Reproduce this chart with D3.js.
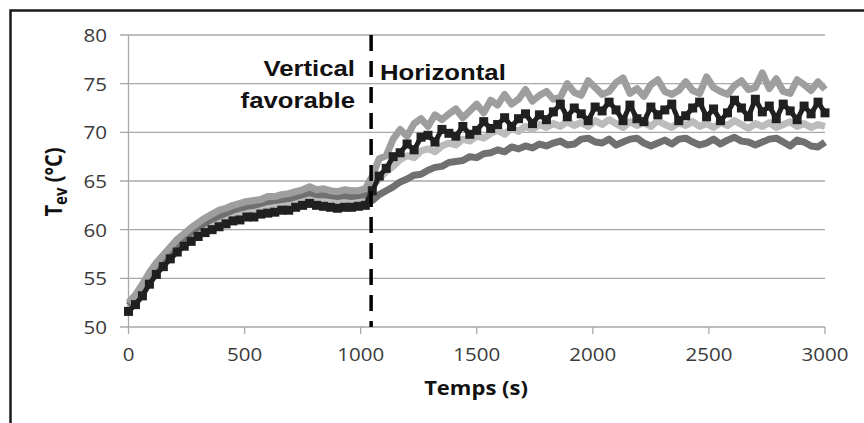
<!DOCTYPE html>
<html>
<head>
<meta charset="utf-8">
<script src="https://cdn.jsdelivr.net/npm/d3@7"></script>
<style>
  body { margin: 0; background: #fff; }
  svg { display: block; }
</style>
</head>
<body>
<svg id="chart" width="864" height="423"></svg>
<script>
// sample times, every 30 s
const times = d3.range(0, 3001, 30);

// light gray, top after the switch
const serieA = [
  52.5, 53.3, 54.4, 55.6, 56.6, 57.4, 58.2, 59.0, 59.6, 60.2,
  60.7, 61.2, 61.6, 62.0, 62.2, 62.5, 62.7, 62.9, 63.0, 63.1,
  63.4, 63.4, 63.6, 63.7, 63.9, 64.1, 64.4, 64.1, 64.2, 64.0,
  63.9, 64.1, 64.0, 64.0, 64.2, 65.5, 67.3, 67.6, 69.3, 70.3,
  69.6, 70.9, 71.4, 70.6, 71.8, 71.3, 71.9, 72.4, 71.5, 72.2,
  72.9, 72.0, 73.3, 72.8, 73.9, 72.9, 73.4, 74.4, 73.2, 73.8,
  74.2, 73.4, 73.6, 75.0, 74.1, 73.8, 75.3, 74.6, 73.9, 74.2,
  75.1, 75.6, 74.0, 74.5, 73.7, 74.9, 75.4, 74.2, 73.9, 74.3,
  75.2, 74.3, 74.0, 75.7, 74.6, 74.2, 73.9, 74.8, 75.3, 74.4,
  74.6, 76.1, 74.5, 75.5, 74.2, 74.0, 75.4, 74.9, 74.3, 75.2,
  74.4
];

// lightest gray, middle
const serieB = [
  51.9, 52.6, 53.6, 54.8, 55.8, 56.6, 57.4, 58.1, 58.7, 59.3,
  59.8, 60.3, 60.7, 61.0, 61.3, 61.6, 61.8, 62.0, 62.1, 62.3,
  62.5, 62.6, 62.7, 62.8, 63.0, 63.2, 63.4, 63.2, 63.1, 63.0,
  63.0, 63.1, 63.0, 63.1, 63.2, 64.5, 65.2, 66.0, 66.5, 67.2,
  67.6, 67.4, 68.1, 68.3, 68.0, 68.6, 68.9, 68.7, 69.3, 69.1,
  69.6, 69.4, 69.9, 70.2, 69.8, 70.4, 70.1, 70.6, 70.3, 70.8,
  70.5, 70.9, 70.6, 71.1, 70.7, 71.0, 70.6, 71.2, 70.8, 71.3,
  70.9, 70.5, 71.1, 70.7, 71.0, 70.6, 71.2, 70.8, 70.5, 71.0,
  70.7, 71.1, 70.6, 70.9, 70.5, 71.0, 70.7, 71.2, 70.8, 70.4,
  70.9, 70.6, 71.0, 70.5, 70.8, 71.1, 70.6, 70.9, 70.5, 70.8,
  70.6
];

// dark gray, bottom after the switch
const serieC = [
  52.2, 52.9, 54.0, 55.1, 56.1, 56.9, 57.8, 58.5, 59.1, 59.7,
  60.2, 60.7, 61.1, 61.4, 61.7, 62.0, 62.2, 62.4, 62.5, 62.7,
  62.9, 63.0, 63.1, 63.2, 63.4, 63.6, 63.8, 63.6, 63.6, 63.5,
  63.4, 63.5, 63.4, 63.5, 63.6, 63.0, 63.6, 64.0, 64.4, 64.9,
  65.2, 65.6, 65.7, 66.1, 66.4, 66.5, 66.9, 67.0, 67.1, 67.5,
  67.4, 67.8, 67.9, 68.2, 68.0, 68.5, 68.3, 68.6, 68.4, 68.8,
  68.6, 68.9, 69.1, 68.7, 68.8, 69.3, 69.4, 69.0, 68.9, 69.3,
  68.7, 69.0, 69.3, 69.4, 68.9, 68.6, 68.9, 69.2, 68.8, 69.3,
  69.4, 69.0, 68.7, 68.9, 69.3, 68.8, 69.2, 69.5, 69.1, 69.0,
  68.7, 69.0, 69.3, 69.4, 69.0, 68.6, 69.2, 69.0, 68.6, 68.5,
  69.0
];

// black, with markers
const serieD = [
  51.6, 52.3, 53.2, 54.4, 55.4, 56.2, 57.0, 57.7, 58.3, 58.8,
  59.3, 59.7, 60.0, 60.3, 60.6, 60.9, 61.0, 61.3, 61.3, 61.6,
  61.7, 61.8, 62.0, 62.0, 62.3, 62.5, 62.7, 62.5, 62.4, 62.3,
  62.2, 62.3, 62.3, 62.4, 62.5, 64.0, 65.5, 66.3, 67.5, 67.9,
  68.8, 68.2, 69.5, 69.7, 69.0, 70.3, 69.9, 69.6, 70.6, 69.8,
  70.2, 71.1, 70.4, 70.8, 71.5, 70.6, 71.4, 71.9, 70.9, 71.8,
  71.3, 72.1, 72.9, 71.6, 72.5, 71.9, 71.2, 72.6, 72.2, 73.1,
  72.3, 71.2, 72.8, 71.4, 71.1, 72.6, 71.8, 72.3, 72.9, 71.2,
  71.7, 72.5, 73.1, 71.6, 72.4, 71.2, 72.0, 73.3, 72.5, 71.6,
  73.4, 72.1, 72.7, 71.4, 72.9, 72.2, 71.3, 72.7, 71.9, 73.1,
  72.0
];

const series = [
  {name: 'B', values: serieB, color: '#bcbcbc', width: 7},
  {name: 'C', values: serieC, color: '#707070', width: 7},
  {name: 'A', values: serieA, color: '#9e9e9e', width: 7},
  {name: 'D', values: serieD, color: '#202020', width: 5, marker: true}
];

const switchTime = 1045;
const xTicks = [0, 500, 1000, 1500, 2000, 2500, 3000];
const yTicks = [50, 55, 60, 65, 70, 75, 80];

const svg = d3.select('#chart');
const x = d3.scaleLinear().domain([0, 3000]).range([128.5, 825]);
const y = d3.scaleLinear().domain([50, 80]).range([327, 35]);

// outer frame (cut by the picture on the right and bottom)
svg.append('rect')
  .attr('x', 10.5).attr('y', 10.5)
  .attr('width', 1000).attr('height', 600)
  .style('fill', 'none').style('stroke', '#1a1a1a').style('stroke-width', 2.5);

// grid lines
svg.selectAll('.grid')
  .data(yTicks.slice(1))
  .join('line')
  .attr('x1', 120).attr('x2', x(3000))
  .attr('y1', d => y(d)).attr('y2', d => y(d))
  .style('stroke', '#a8a8a8').style('stroke-width', 1.3);

// y axis
svg.append('line')
  .attr('x1', x(0)).attr('x2', x(0))
  .attr('y1', y(80)).attr('y2', y(50))
  .style('stroke', '#a8a8a8').style('stroke-width', 1.3);

// x axis
svg.append('line')
  .attr('x1', 120).attr('x2', x(3000))
  .attr('y1', y(50)).attr('y2', y(50))
  .style('stroke', '#a8a8a8').style('stroke-width', 1.3);

svg.selectAll('.xtick')
  .data(xTicks)
  .join('line')
  .attr('x1', d => x(d)).attr('x2', d => x(d))
  .attr('y1', y(50)).attr('y2', y(50) + 7)
  .style('stroke', '#a8a8a8').style('stroke-width', 1.3);

svg.selectAll('.ylab')
  .data(yTicks)
  .join('text')
  .attr('transform', d => `translate(107,${y(d)}) scale(1.08,1)`)
  .attr('dy', '0.36em')
  .attr('text-anchor', 'end')
  .style('font-family', 'Open Sans')
  .style('font-size', '19px')
  .style('fill', '#3a3a3a')
  .text(d => d);

svg.selectAll('.xlab')
  .data(xTicks)
  .join('text')
  .attr('transform', d => `translate(${x(d)},354) scale(1.08,1)`)
  .attr('dy', '0.36em')
  .attr('text-anchor', 'middle')
  .style('font-family', 'Open Sans')
  .style('font-size', '19px')
  .style('fill', '#3a3a3a')
  .text(d => d);

// axis titles
svg.append('text')
  .attr('transform', 'translate(476,395) scale(1.1,1)')
  .attr('text-anchor', 'middle')
  .style('font-family', 'Open Sans')
  .style('font-weight', 'bold')
  .style('font-size', '20px')
  .style('fill', '#111')
  .text('Temps (s)');

const yTitle = svg.append('text')
  .attr('transform', 'translate(62,182) scale(1.17,1) rotate(-90)')
  .attr('text-anchor', 'middle')
  .style('font-family', 'Open Sans')
  .style('font-weight', 'bold')
  .style('font-size', '20px')
  .style('fill', '#111');
yTitle.append('tspan').text('T');
yTitle.append('tspan').attr('dy', 4).style('font-size', '15px').text('ev');
yTitle.append('tspan').attr('dy', -4).text(' (°C)');

// series
const line = d3.line()
  .x((d, i) => x(times[i]))
  .y(d => y(d));

series.forEach(s => {
  svg.append('path')
    .datum(s.values)
    .attr('d', line)
    .style('fill', 'none')
    .style('stroke', s.color)
    .style('stroke-width', s.width)
    .style('stroke-linejoin', 'round');

  if (s.marker) {
    svg.selectAll('.mk-' + s.name)
      .data(s.values)
      .join('rect')
      .attr('x', (d, i) => x(times[i]) - 4.5)
      .attr('y', d => y(d) - 4.5)
      .attr('width', 9).attr('height', 9)
      .style('fill', s.color);
  }
});

// switch line
svg.append('line')
  .attr('x1', x(switchTime)).attr('x2', x(switchTime))
  .attr('y1', y(80)).attr('y2', y(50))
  .style('stroke', '#000').style('stroke-width', 3.5)
  .style('stroke-dasharray', '16 10');

// phase labels
const labelStyle = sel => sel
  .style('font-family', 'Liberation Sans')
  .style('font-weight', 'bold')
  .style('font-size', '22px')
  .style('fill', '#111');

svg.append('text')
  .attr('transform', 'translate(355,76) scale(1.17,1)')
  .attr('text-anchor', 'end')
  .call(labelStyle)
  .text('Vertical');
svg.append('text')
  .attr('transform', 'translate(355,108) scale(1.17,1)')
  .attr('text-anchor', 'end')
  .call(labelStyle)
  .text('favorable');
svg.append('text')
  .attr('transform', 'translate(380,80) scale(1.17,1)')
  .call(labelStyle)
  .text('Horizontal');
</script>
</body>
</html>
